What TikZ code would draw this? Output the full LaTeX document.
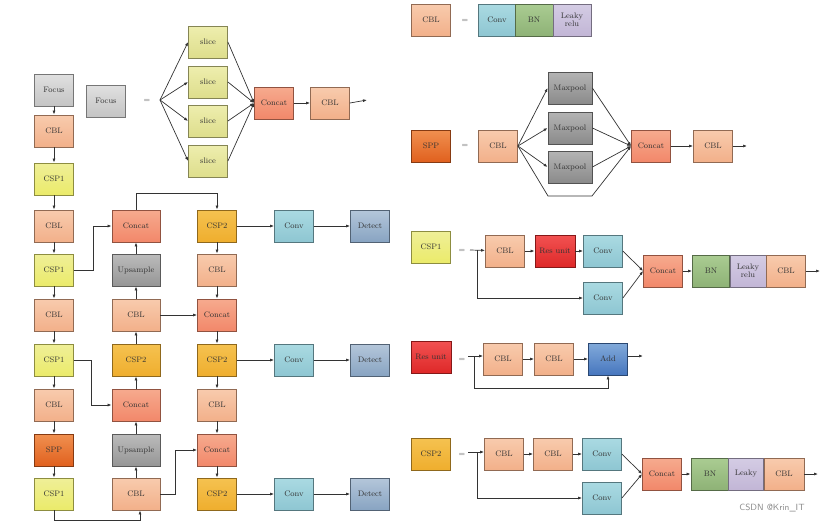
\documentclass[tikz,border=0pt]{standalone}
\usetikzlibrary{arrows.meta}
\begin{document}
\begin{tikzpicture}[x=1pt,y=-1pt,font=\footnotesize,
 box/.style={draw=#1!60!black,line width=0.8pt,minimum width=39pt,minimum height=32pt,inner sep=0pt,text=black!80},
 g/.style n args={2}{top color=#1,bottom color=#2},
 cbl/.style={box=cblB,g={cblT}{cblB}},
 cspa/.style={box=cspaB,g={cspaT}{cspaB}},
 sppS/.style={box=sppB,g={sppT}{sppB}},
 cat/.style={box=catB,g={catT}{catB}},
 ups/.style={box=upsB,g={upsT}{upsB},minimum width=48pt},
 cspb/.style={box=cspbB,g={cspbT}{cspbB}},
 conv/.style={box=convB,g={convT}{convB}},
 det/.style={box=detB,g={detT}{detB}},
 foc/.style={box=focB,g={focT}{focB}},
 sli/.style={box=sliB,g={sliT}{sliB}},
 mp/.style={box=mpB,g={mpT}{mpB},minimum width=44pt},
 bn/.style={box=bnB,g={bnT}{bnB},minimum width=37pt},
 lr/.style={box=lrB,g={lrT}{lrB},minimum width=37pt,align=center,font=\footnotesize\linespread{0.8}\selectfont},
 res/.style={box=resB,g={resT}{resB},minimum width=40pt},
 add/.style={box=addB,g={addT}{addB}},
 ar/.style={-{Latex[length=4pt,width=3pt]},line width=0.7pt,draw=black!80},
 ln/.style={line width=0.7pt,draw=black!80},
 eq/.style={text=black!70}]
\definecolor{cblT}{HTML}{F8CBAD}\definecolor{cblB}{HTML}{F2B08A}
\definecolor{cspaT}{HTML}{EFEF98}\definecolor{cspaB}{HTML}{EBEB6A}
\definecolor{sppT}{HTML}{F09050}\definecolor{sppB}{HTML}{E0601E}
\definecolor{catT}{HTML}{F6AA8E}\definecolor{catB}{HTML}{F2886A}
\definecolor{upsT}{HTML}{BBBBBB}\definecolor{upsB}{HTML}{969696}
\definecolor{cspbT}{HTML}{F5C250}\definecolor{cspbB}{HTML}{EFAE2E}
\definecolor{convT}{HTML}{AADAE2}\definecolor{convB}{HTML}{8EC6D2}
\definecolor{detT}{HTML}{B4C6DA}\definecolor{detB}{HTML}{88A4C2}
\definecolor{focT}{HTML}{E0E0E0}\definecolor{focB}{HTML}{C4C4C4}
\definecolor{sliT}{HTML}{EEEEAE}\definecolor{sliB}{HTML}{DEDE8C}
\definecolor{mpT}{HTML}{B4B4B4}\definecolor{mpB}{HTML}{8A8A8A}
\definecolor{bnT}{HTML}{AACC92}\definecolor{bnB}{HTML}{8EB276}
\definecolor{lrT}{HTML}{D4CCE4}\definecolor{lrB}{HTML}{C2B6D6}
\definecolor{resT}{HTML}{F25252}\definecolor{resB}{HTML}{DE2828}
\definecolor{addT}{HTML}{82AADA}\definecolor{addB}{HTML}{4676BE}
\useasboundingbox (0,0) rectangle (825,525);
% left column
\node[foc] (f) at (54,90) {Focus};
\node[cbl] (l1) at (54,131) {CBL};
\node[cspa] (l2) at (54,179) {CSP1};
\node[cbl] (l3) at (54,226) {CBL};
\node[cspa] (l4) at (54,270) {CSP1};
\node[cbl] (l5) at (54,315) {CBL};
\node[cspa] (l6) at (54,360) {CSP1};
\node[cbl] (l7) at (54,405) {CBL};
\node[sppS] (l8) at (54,450) {SPP};
\node[cspa] (l9) at (54,494) {CSP1};
\foreach \a/\b in {f/l1,l1/l2,l2/l3,l3/l4,l4/l5,l5/l6,l6/l7,l7/l8,l8/l9} \draw[ar] (\a) -- (\b);
% column 2
\node[cat,minimum width=48pt] (m1) at (136,226) {Concat};
\node[ups] (m2) at (136,270) {Upsample};
\node[cbl,minimum width=48pt] (m3) at (136,315) {CBL};
\node[cspb,minimum width=48pt] (m4) at (136,360) {CSP2};
\node[cat,minimum width=48pt] (m5) at (136,405) {Concat};
\node[ups] (m6) at (136,450) {Upsample};
\node[cbl,minimum width=48pt] (m7) at (136,494) {CBL};
\foreach \a/\b in {m7/m6,m6/m5,m5/m4,m4/m3,m3/m2,m2/m1} \draw[ar] (\a) -- (\b);
% column 3
\node[cspb] (r1) at (217,226) {CSP2};
\node[cbl] (r2) at (217,270) {CBL};
\node[cat] (r3) at (217,315) {Concat};
\node[cspb] (r4) at (217,360) {CSP2};
\node[cbl] (r5) at (217,405) {CBL};
\node[cat] (r6) at (217,450) {Concat};
\node[cspb] (r7) at (217,494) {CSP2};
\foreach \a/\b in {r1/r2,r2/r3,r3/r4,r4/r5,r5/r6,r6/r7} \draw[ar] (\a) -- (\b);
\foreach \i/\y in {a/226,b/360,c/494}{
 \node[conv] (cv\i) at (294,\y) {Conv};
 \node[det] (dt\i) at (370,\y) {Detect};
 \draw[ar] (cv\i) -- (dt\i);}
\draw[ar] (r1) -- (cva); \draw[ar] (r4) -- (cvb); \draw[ar] (r7) -- (cvc);
\draw[ar] (l4.east) -| (93,226) -- (m1.west);
\draw[ar] (l6.east) -| (91,405) -- (m5.west);
\draw[ar] (l9.south) |- (140,520) -- (m7.south -| 140,0);
\draw[ar] (m1.north) |- (217,193) -- (r1.north);
\draw[ar] (m3) -- (r3);
\draw[ar] (m7.east) -| (175,450) -- (r6.west);
% Focus def
\node[foc] (fd) at (106,101) {Focus};
\node[eq] at (147,101) {=};
\coordinate (fp) at (160,100);
\node[cat] (fc) at (274,103) {Concat};
\foreach \i/\y in {1/42,2/82,3/121,4/161}{
 \node[sli] (s\i) at (208,\y) {slice};
 \draw[ar] (fp) -- (s\i.west); \draw[ar] (s\i.east) -- (fc.west);}
\node[cbl] (fcb) at (330,103) {CBL};
\coordinate (fo) at (367,100);
\draw[ar] (fc) -- (fcb); \draw[ar] (fcb.east) -- (fo);
% CBL def
\node[cbl] (cd) at (431,20) {CBL};
\node[eq] at (465,21) {=};
\node[conv,minimum width=38pt] (cd1) at (497,20) {Conv};
\node[bn,minimum width=38pt] (cd2) at (534,20) {BN};
\node[lr,minimum width=38pt] (cd3) at (572,20) {Leaky\\relu};
% SPP def
\node[sppS] (sd) at (431,146) {SPP};
\node[eq] at (465,146) {=};
\node[cbl] (sc) at (498,146) {CBL};
\node[cat] (sk) at (651,146) {Concat};
\foreach \i/\y in {1/88,2/128,3/167}{
 \node[mp] (mp\i) at (570,\y) {Maxpool};
 \draw[ar] (sc.east) -- (mp\i.west); \draw[ar] (mp\i.east) -- (sk.west);}
\draw[ar] (sc.east) -- (548,196) -- (592,196) -- (sk.west);
\node[cbl] (so) at (713,146) {CBL};
\coordinate (sou) at (747,146);
\draw[ar] (sk) -- (so); \draw[ar] (so.east) -- (sou);
% CSP1 def
\node[cspa] (ad) at (431,247) {CSP1};
\node[eq] at (462,251) {=};
\coordinate (ai) at (470,250);
\node[cbl] (a1) at (505,251) {CBL};
\node[res] (a2) at (555,251) {Res unit};
\node[conv] (a3) at (603,251) {Conv};
\node[conv] (a4) at (603,298) {Conv};
\node[cat] (a5) at (663,271) {Concat};
\node[bn] (a6) at (711,271) {BN};
\node[lr,minimum width=36pt] (a7) at (748,271) {Leaky\\relu};
\node[cbl] (a8) at (786,271) {CBL};
\coordinate (ao) at (820,271);
\draw[ar] (ai) -- (a1); \draw[ar] (a1) -- (a2); \draw[ar] (a2) -- (a3);
\draw[ar] (477,250) |- (a4.west);
\draw[ar] (a3.east) -- (a5.west); \draw[ar] (a4.east) -- (a5.west);
\draw[ar] (a5) -- (a6); \draw[ar] (a8.east) -- (ao);
% Res unit def
\node[res] (rd) at (431,357) {Res unit};
\node[eq] at (462,360) {=};
\coordinate (ri) at (468,356);
\node[cbl] (b1) at (503,359) {CBL};
\node[cbl] (b2) at (554,359) {CBL};
\node[add] (b3) at (608,359) {Add};
\coordinate (ro) at (643,356);
\draw[ar] (ri) -- (b1.west |- ri); \draw[ar] (b1) -- (b2); \draw[ar] (b2) -- (b3);
\draw[ar] (b3.east |- ro) -- (ro);
\draw[ar] (474,356) |- (608,388) -- (b3.south);
% CSP2 def
\node[cspb] (cd2d) at (431,454) {CSP2};
\node[eq] at (462,455) {=};
\coordinate (ci) at (468,452);
\node[cbl] (c1) at (504,454) {CBL};
\node[cbl] (c2) at (553,454) {CBL};
\node[conv] (c3) at (602,454) {Conv};
\node[conv] (c4) at (602,498) {Conv};
\node[cat] (c5) at (662,474) {Concat};
\node[bn,minimum width=38pt] (c6) at (710,474) {BN};
\node[lr,minimum width=35pt] (c7) at (746,474) {Leaky};
\node[cbl,minimum width=40pt] (c8) at (784,474) {CBL};
\coordinate (co) at (818,474);
\draw[ar] (ci) -- (c1.west |- ci); \draw[ar] (c1) -- (c2); \draw[ar] (c2) -- (c3);
\draw[ar] (477,452) |- (c4.west);
\draw[ar] (c3.east) -- (c5.west); \draw[ar] (c4.east) -- (c5.west);
\draw[ar] (c5) -- (c6); \draw[ar] (c8.east) -- (co);
\node[text=black!45,font=\sffamily\small] at (772,508) {CSDN @Krin\_IT};
\end{tikzpicture}
\end{document}
